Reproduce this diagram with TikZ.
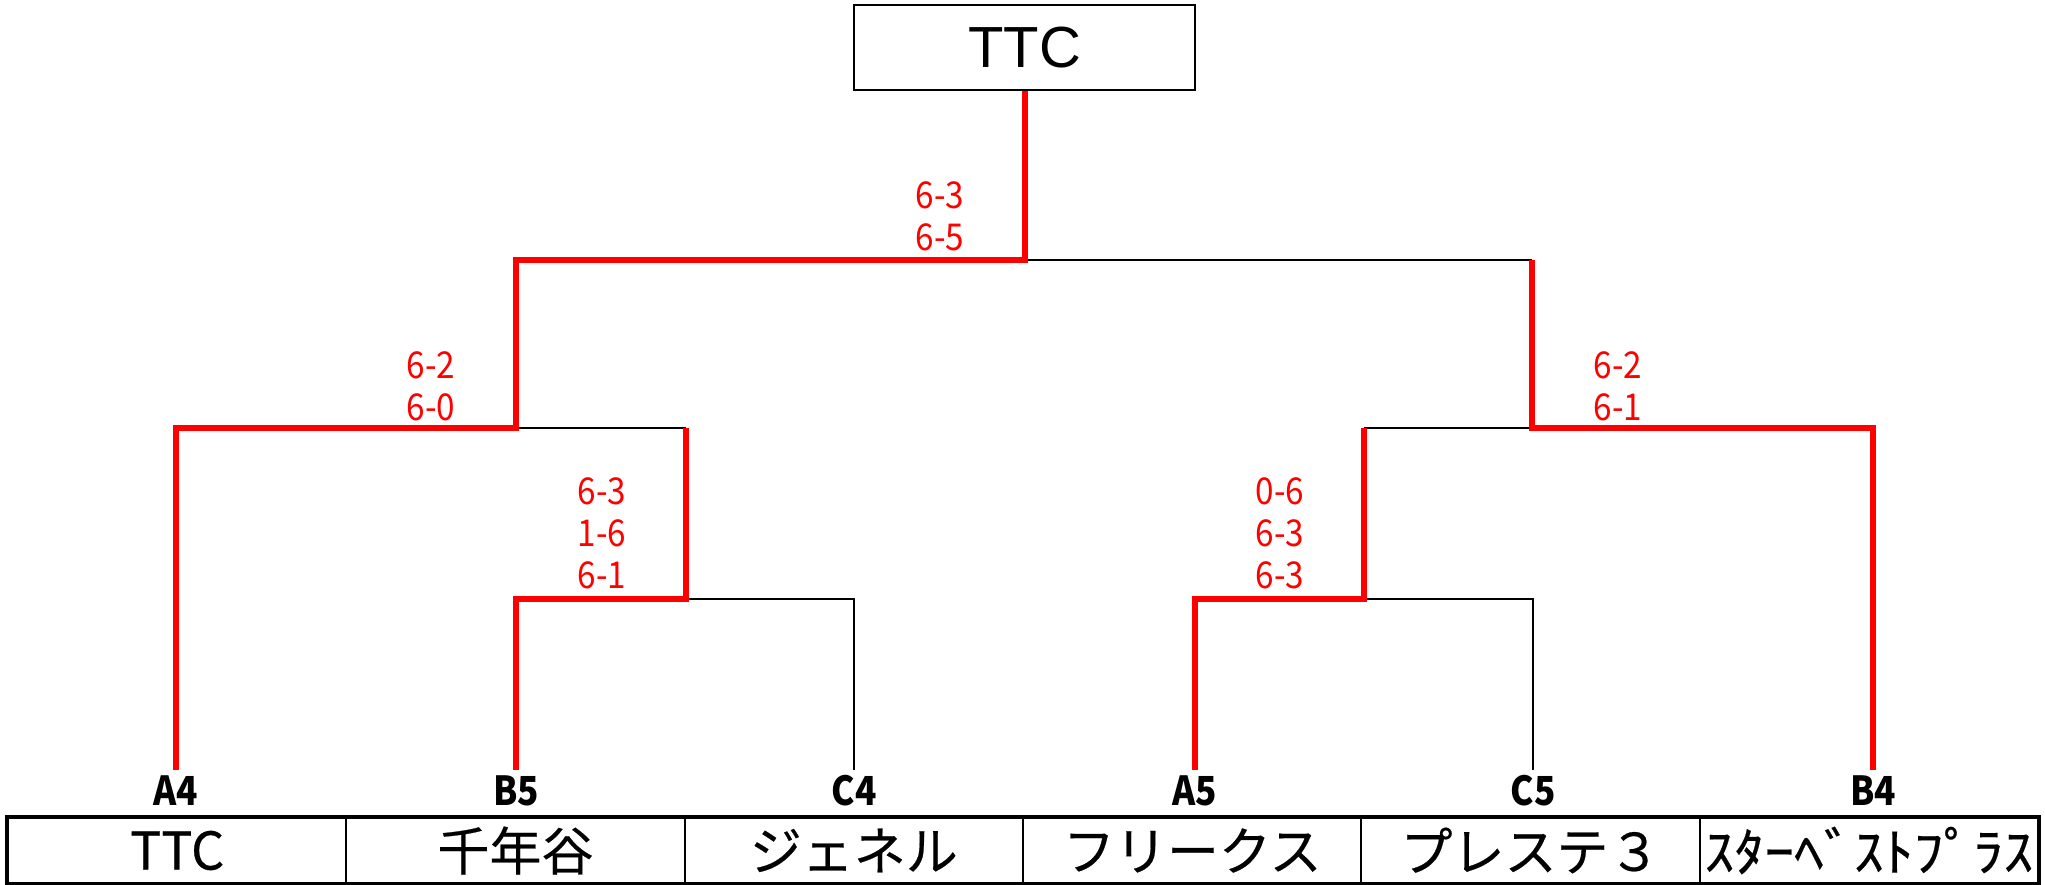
\documentclass[tikz,border=0pt]{standalone}
\usepackage{fontspec}
\setmainfont{Noto Sans CJK JP}
\newfontfamily\jpfont[FakeBold=0.4]{Noto Sans CJK JP}
\newfontfamily\scorefont[FakeStretch=0.9]{Noto Sans CJK JP}
\newfontfamily\seedfont[FakeStretch=0.88]{Noto Sans CJK JP}
\newfontfamily\arialfont{Liberation Sans}
\begin{document}
\begin{tikzpicture}[x=0.5pt,y=-0.5pt,
  win/.style={draw=red, line width=2.6pt, line join=miter},
  lose/.style={draw=black, line width=1.1pt},
  score/.style={text=red, inner sep=0pt, align=center, font=\scorefont\fontsize{18.5}{21}\selectfont},
  seed/.style={inner sep=0pt, font=\seedfont\bfseries\fontsize{20}{22}\selectfont},
  team/.style={draw, line width=1pt, minimum width=169.2pt, minimum height=32.5pt, inner sep=0pt, font=\jpfont\fontsize{26}{28}\selectfont},
  champ/.style={draw, line width=1pt, minimum width=170.5pt, minimum height=42.5pt, inner sep=0pt, font=\arialfont\fontsize{29}{31}\selectfont}]
\useasboundingbox (0,0) rectangle (2045,884);
% champion box
\node[champ] (top) at (1024.5,47.5) {TTC};
% teams
\node[team] (t1) at (177.2,850.5) {TTC};
\node[team] (t2) at (515.5,850.5) {千年谷};
\node[team] (t3) at (853.8,850.5) {ジェネル};
\node[team] (t4) at (1192.2,850.5) {フリークス};
\node[team] (t5) at (1530.5,850.5) {プレステ３};
\node[team] (t6) at (1868.8,850.5) {\scalebox{1.15}[1]{ｽﾀｰﾍﾞｽﾄﾌﾟﾗｽ}};
\draw[line width=1.6pt] (t1.north west) rectangle (t6.south east);
% seed labels
\node[seed] (sA4) at (176,791) {A4};
\node[seed] (sB5) at (516,791) {B5};
\node[seed] (sC4) at (854,791) {C4};
\node[seed] (sA5) at (1195,791) {A5};
\node[seed] (sC5) at (1533,791) {C5};
\node[seed] (sB4) at (1873,791) {B4};
% tree coordinates
\coordinate (j0) at (1025,260);
\coordinate (l1) at (516,260);
\coordinate (r1) at (1532,260);
\coordinate (l2) at (516,428);
\coordinate (l2a) at (176,428);
\coordinate (l2b) at (686,428);
\coordinate (l3) at (686,599);
\coordinate (l3a) at (516,599);
\coordinate (l3b) at (854,599);
\coordinate (r2) at (1532,428);
\coordinate (r2a) at (1364,428);
\coordinate (r2b) at (1873,428);
\coordinate (r3) at (1364,599);
\coordinate (r3a) at (1195,599);
\coordinate (r3b) at (1533,599);
\coordinate (eA4) at (176,770);
\coordinate (eB5) at (516,770);
\coordinate (eC4) at (854,770);
\coordinate (eA5) at (1195,770);
\coordinate (eC5) at (1533,770);
\coordinate (eB4) at (1873,770);
% losing branches
\draw[lose] (j0) -- (r1);
\draw[lose] (l2) -- (l2b);
\draw[lose] (l3) -- (l3b) -- (eC4);
\draw[lose] (r2a) -- (r2);
\draw[lose] (r3) -- (r3b) -- (eC5);
% winning branches
\draw[win] (top.south -| j0) -- (j0) -- (l1) -- (l2) -- (l2a) -- (eA4);
\draw[win] (l2b) -- (l3) -- (l3a) -- (eB5);
\draw[win] (r1) -- (r2) -- (r2b) -- (eB4);
\draw[win] (r2a) -- (r3) -- (r3a) -- (eA5);
% scores
\node[score] (s1) at (940,216.5) {6-3\\6-5};
\node[score] (s2) at (431,386) {6-2\\6-0};
\node[score] (s3) at (602,533.5) {6-3\\1-6\\6-1};
\node[score] (s4) at (1618,386) {6-2\\6-1};
\node[score] (s5) at (1280,533.5) {0-6\\6-3\\6-3};
\end{tikzpicture}
\end{document}
